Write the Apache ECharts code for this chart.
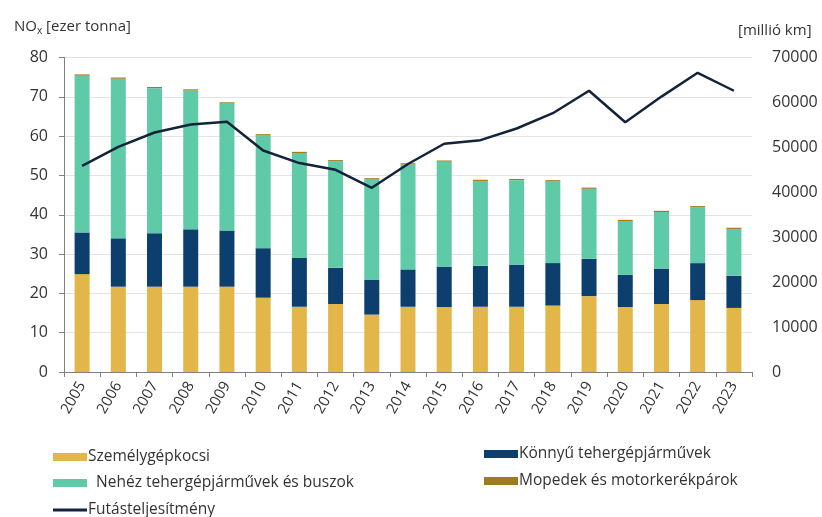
<!DOCTYPE html>
<html>
<head>
<meta charset="utf-8">
<script src="https://cdn.jsdelivr.net/npm/echarts@6/dist/echarts.min.js"></script>
<style>
  html, body { margin: 0; padding: 0; background: #fff; }
  #chart { width: 822px; height: 517px; }
</style>
</head>
<body>
<div id="chart"></div>
<script>
// évek
var years = ['2005', '2006', '2007', '2008', '2009', '2010', '2011', '2012', '2013', '2014',
  '2015', '2016', '2017', '2018', '2019', '2020', '2021', '2022', '2023'];
// NOx kibocsátás, ezer tonna
var szemely = [24.9, 21.7, 21.7, 21.7, 21.7, 18.9, 16.6, 17.3, 14.6, 16.6, 16.5, 16.6, 16.6, 16.9, 19.3, 16.5, 17.3, 18.3, 16.3];
var konnyu = [10.6, 12.3, 13.6, 14.6, 14.3, 12.6, 12.4, 9.2, 8.8, 9.5, 10.3, 10.4, 10.7, 10.8, 9.5, 8.2, 9.0, 9.4, 8.2];
var nehez = [39.9, 40.6, 36.9, 35.3, 32.3, 28.7, 26.7, 27.1, 25.6, 26.7, 26.7, 21.6, 21.5, 20.8, 17.8, 13.7, 14.4, 14.2, 11.9];
var moped = [0.3, 0.3, 0.3, 0.3, 0.3, 0.3, 0.3, 0.3, 0.3, 0.3, 0.3, 0.3, 0.3, 0.3, 0.3, 0.3, 0.3, 0.3, 0.3];
// futásteljesítmény, millió km
var futas = [45900, 50100, 53300, 55100, 55700, 49300, 46500, 45000, 41000, 46300, 50800, 51600, 54200, 57600, 62600, 55600, 61300, 66600, 62600];
var leftTicks = [0, 80, 10];
var rightTicks = [0, 70000, 10000];

var font = 'Open Sans';
var textC = '#333';

var chart = echarts.init(document.getElementById('chart'));

function legendItem(name, left, top, opts) {
  return Object.assign({
    data: [name],
    left: left,
    top: top,
    itemWidth: 34,
    itemHeight: 8,
    itemGap: 0,
    padding: 0,
    icon: 'rect',
    textStyle: { fontFamily: font, fontSize: 15.5, color: textC, padding: [0, 0, 0, -4] }
  }, opts || {});
}

function barSeries(name, data, color) {
  return {
    name: name,
    type: 'bar',
    stack: 'nox',
    barWidth: 15,
    data: data,
    itemStyle: { color: color },
    emphasis: { disabled: true }
  };
}

var option = {
  animation: false,
  title: [{
    text: '{a|NO}{b|x}{a| [ezer tonna]}',
    left: 9,
    top: 13,
    textStyle: {
      fontWeight: 'normal',
      rich: {
        a: { fontFamily: font, fontSize: 15, color: textC },
        b: { fontFamily: font, fontSize: 10, color: textC, padding: [8, 0, 0, 0] }
      }
    }
  }, {
    text: '[millió km]',
    left: 733,
    top: 18,
    textStyle: { fontFamily: font, fontSize: 15, fontWeight: 'normal', color: textC }
  }],
  legend: [
    legendItem('Személygépkocsi', 53, 449),
    legendItem('Nehéz tehergépjárművek és buszok', 53, 475, { formatter: function (n) { return '  ' + n; } }),
    legendItem('Könnyű tehergépjárművek', 484, 446),
    legendItem('Mopedek és motorkerékpárok', 484, 473),
    legendItem('Futásteljesítmény', 53, 502, { itemHeight: 3 })
  ],
  grid: { left: 64, right: 70, top: 57.5, bottom: 145 },
  xAxis: {
    type: 'category',
    data: years,
    axisLine: { lineStyle: { color: '#808080', width: 1 } },
    axisTick: { show: true, length: 5, lineStyle: { color: '#808080' } },
    axisLabel: {
      rotate: 60,
      margin: 11,
      fontFamily: font,
      fontSize: 15,
      color: textC
    }
  },
  yAxis: [{
    type: 'value',
    min: leftTicks[0],
    max: leftTicks[1],
    interval: leftTicks[2],
    axisLine: { show: true, lineStyle: { color: '#808080' } },
    axisTick: { show: true, length: 5, lineStyle: { color: '#808080' } },
    axisLabel: { margin: 16, fontFamily: font, fontSize: 16, color: textC },
    splitLine: { lineStyle: { color: '#e3e3e3' } }
  }, {
    type: 'value',
    min: rightTicks[0],
    max: rightTicks[1],
    interval: rightTicks[2],
    axisLine: { show: false },
    axisTick: { show: false },
    axisLabel: {
      margin: 20, fontFamily: font, fontSize: 16, color: textC,
      formatter: function (v) { return String(v); }
    },
    splitLine: { show: false }
  }],
  series: [
    barSeries('Személygépkocsi', szemely, '#e3b64a'),
    barSeries('Könnyű tehergépjárművek', konnyu, '#0c3f6e'),
    barSeries('Nehéz tehergépjárművek és buszok', nehez, '#5fcaa7'),
    barSeries('Mopedek és motorkerékpárok', moped, '#9e7b1f'),
    {
      name: 'Futásteljesítmény',
      type: 'line',
      yAxisIndex: 1,
      data: futas,
      symbol: 'none',
      lineStyle: { color: '#12233a', width: 2.5 },
      itemStyle: { color: '#12233a' },
      z: 5
    }
  ]
};

chart.setOption(option);
</script>
</body>
</html>
